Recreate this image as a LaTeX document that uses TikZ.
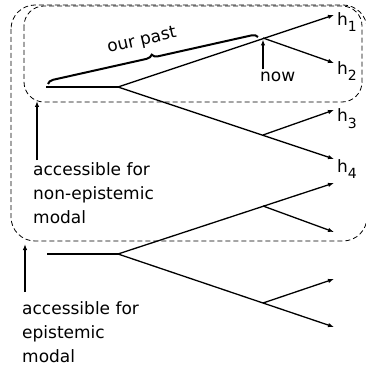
\documentclass[tikz,border=0pt]{standalone}
\usepackage{fontspec}
\setmainfont{DejaVu Sans}
\usetikzlibrary{arrows.meta,decorations.pathreplacing}

% lowered index digit for history labels
\newcommand\hidx[1]{\raisebox{-6pt}{\fontsize{14}{14}\selectfont #1}}

\begin{document}
\begin{tikzpicture}[x=1pt,y=-1pt,
  branch/.style={line width=1.3pt},
  tip/.style={branch,-{Latex[length=6pt,width=4.5pt]}},
  region/.style={line width=0.8pt,dash pattern=on 5pt off 3pt},
  lbl/.style={font=\fontsize{17}{24}\selectfont,inner sep=0pt,align=left},
]
\useasboundingbox (0,0) rectangle (365,366);

% dashed regions
\draw[region,rounded corners=24pt] (11,5) rectangle (367,241);
\draw[region,rounded corners=20pt] (24,6) rectangle (362,102);

% upper tree
\coordinate (r1) at (46,87);
\coordinate (b1) at (118,87);
\coordinate (n1) at (263,38);
\coordinate (m1) at (263,135);
\coordinate (h1) at (334,15);
\coordinate (h2) at (334,63);
\coordinate (h3) at (334,110);
\coordinate (h4) at (334,159);
\draw[branch] (r1) -- (b1);
\draw[tip] (b1) -- (h1);
\draw[tip] (n1) -- (h2);
\draw[tip] (b1) -- (h4);
\draw[tip] (m1) -- (h3);

% lower tree
\coordinate (r2) at (47,254);
\coordinate (b2) at (118,254);
\coordinate (n2) at (263,206);
\coordinate (m2) at (263,303);
\coordinate (g1) at (334,183);
\coordinate (g2) at (334,232);
\coordinate (g3) at (334,279);
\coordinate (g4) at (334,327);
\draw[branch] (r2) -- (b2);
\draw[tip] (b2) -- (g1);
\draw[tip] (n2) -- (g2);
\draw[tip] (b2) -- (g4);
\draw[tip] (m2) -- (g3);

% history labels
\node[lbl,anchor=base west] (lh1) at (337,26) {h\hidx{1}};
\node[lbl,anchor=base west] (lh2) at (337,75) {h\hidx{2}};
\node[lbl,anchor=base west] (lh3) at (337,122) {h\hidx{3}};
\node[lbl,anchor=base west] (lh4) at (337,172) {h\hidx{4}};

% our past brace
\coordinate (p0) at (48,84);
\coordinate (p1) at (258,37);
\draw[line width=2pt,decorate,decoration={brace,amplitude=6pt}] (p0) -- (p1);
\node[lbl,rotate=13] (past) at (142,41) {our past};

% now
\node[lbl,anchor=base west] (now) at (260,82) {now};
\draw[tip] ([xshift=3pt,yshift=3pt]now.north west) -- ([yshift=-1.5pt]n1);

% accessibility labels
\coordinate (c1) at (37,101);
\node[lbl,anchor=north west] (acc1) at (33,162) {accessible for\\non-epistemic\\modal};
\draw[tip] ([xshift=4pt,yshift=2pt]acc1.north west) -- (c1);

\coordinate (c2) at (25,244);
\node[lbl,anchor=north west] (acc2) at (22,301) {accessible for\\epistemic\\modal};
\draw[tip] ([xshift=3pt,yshift=9pt]acc2.north west) -- (c2);
\end{tikzpicture}
\end{document}
